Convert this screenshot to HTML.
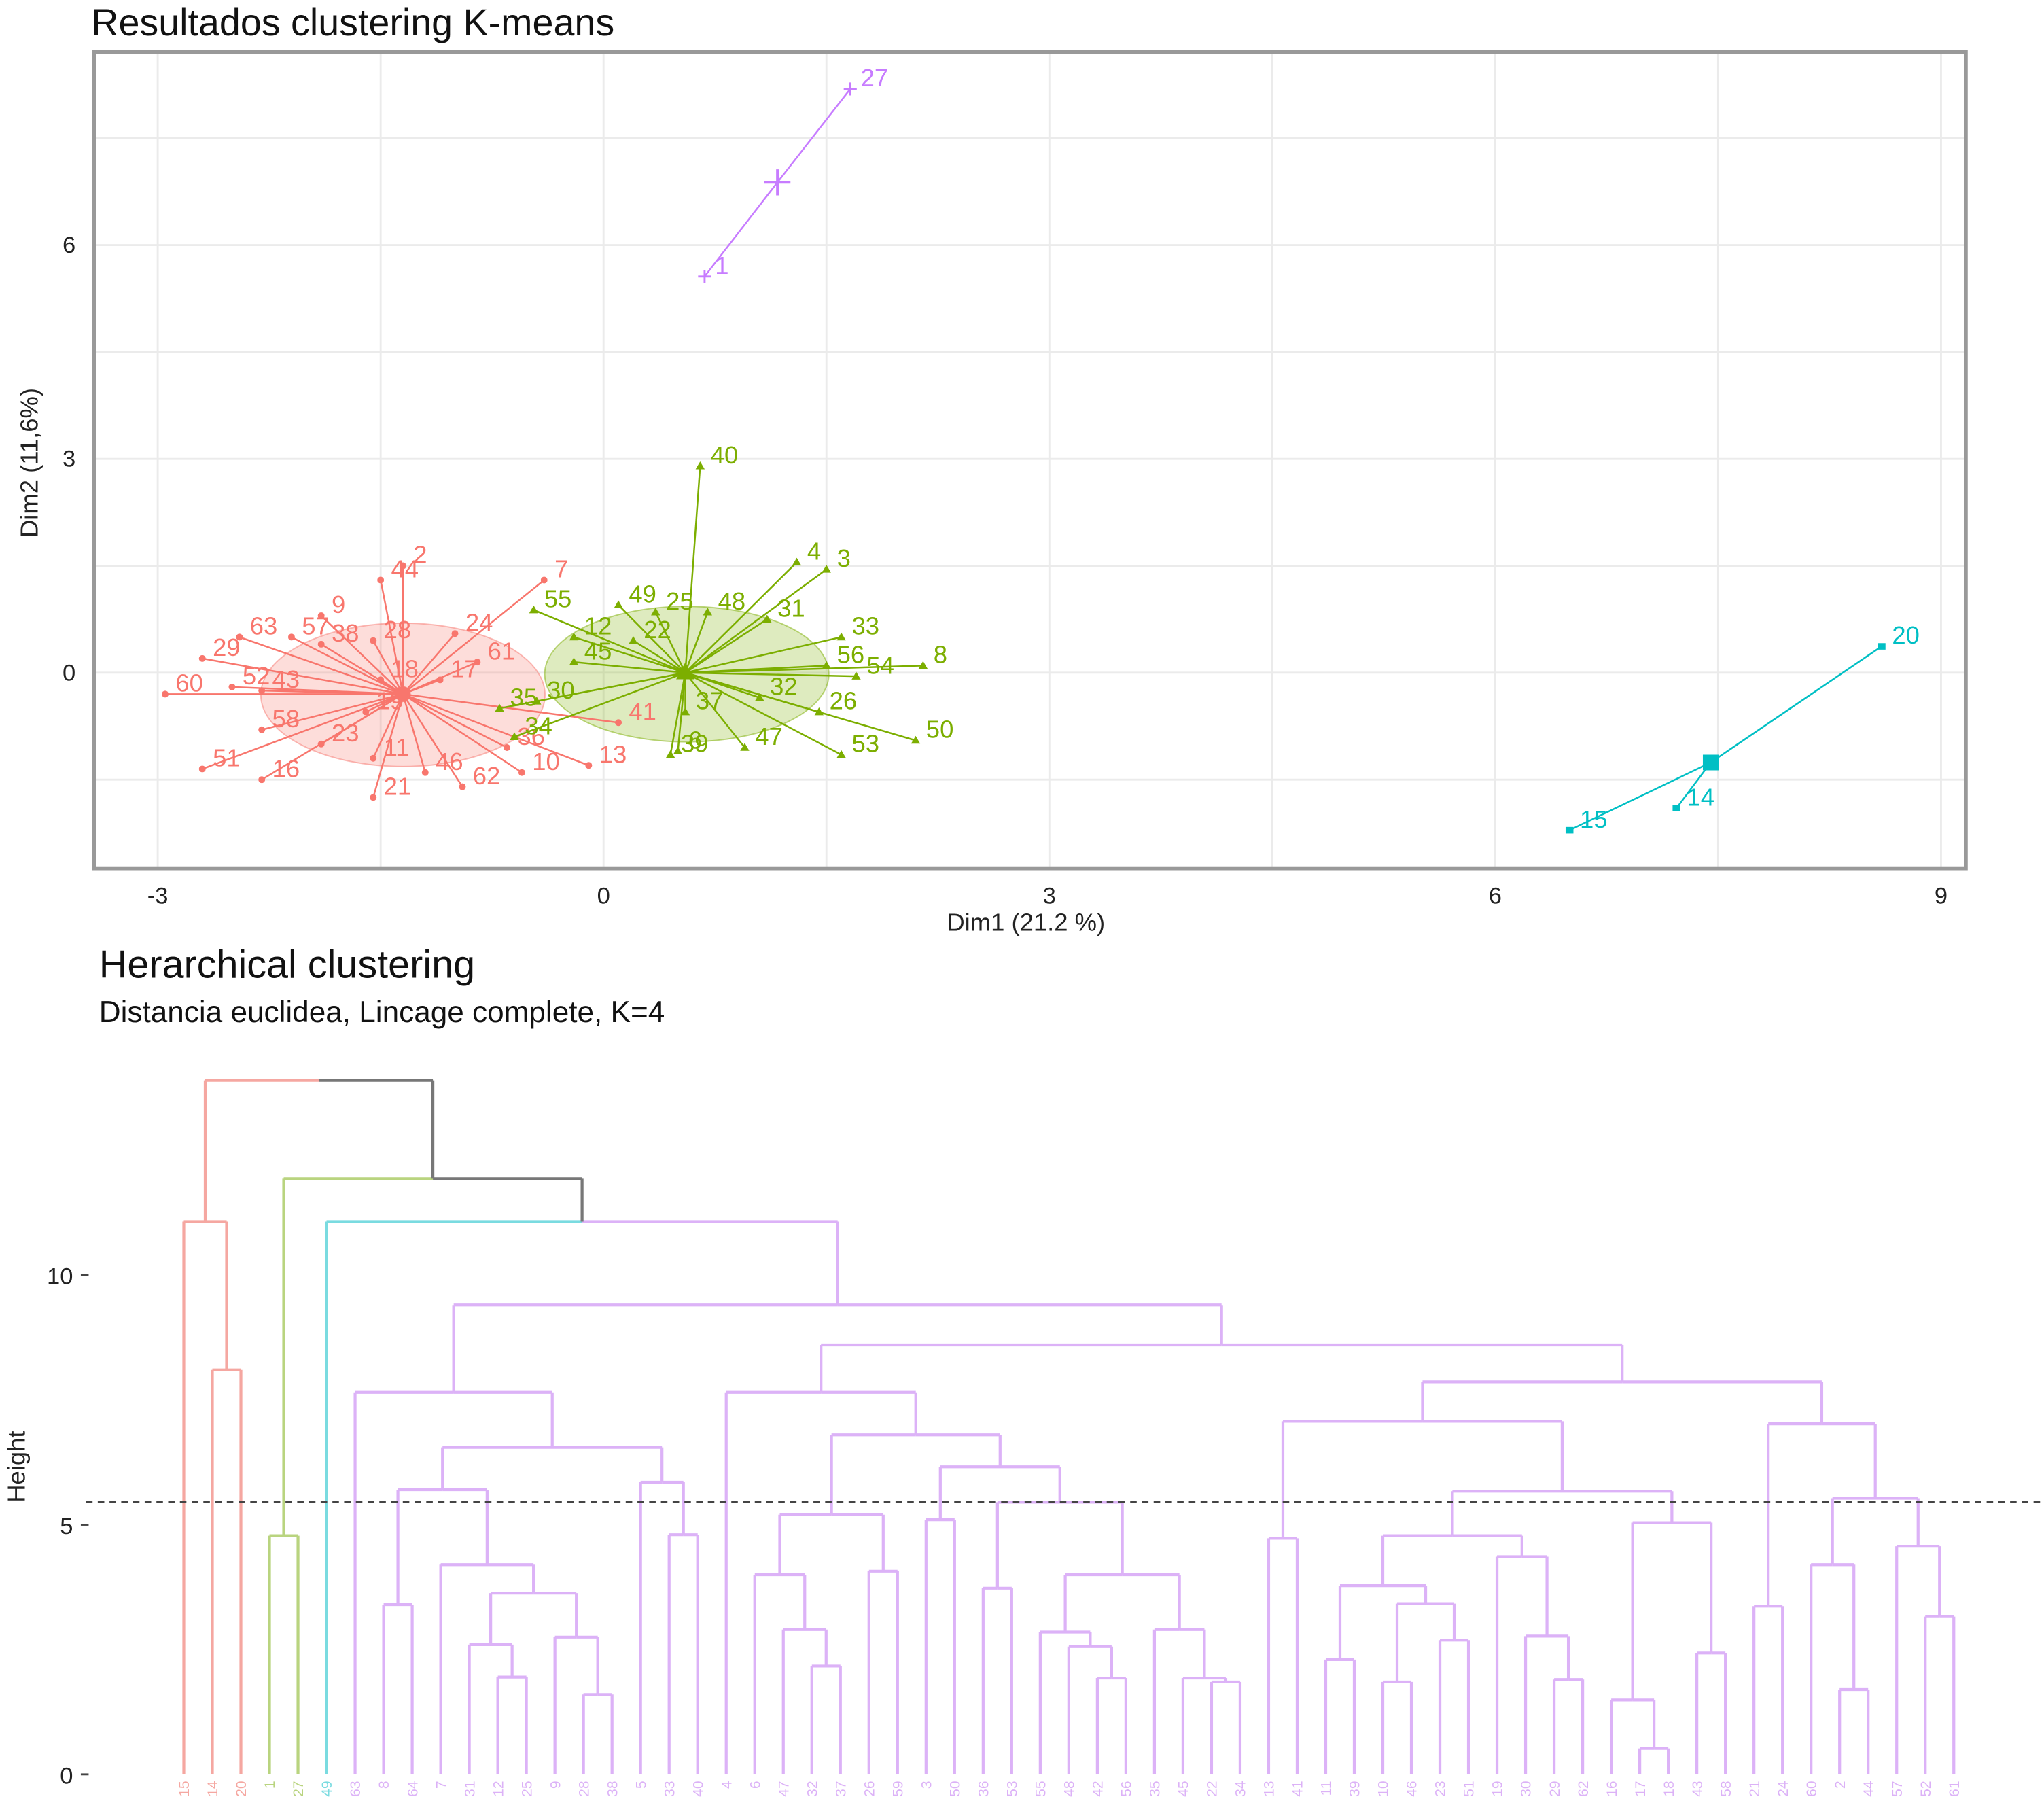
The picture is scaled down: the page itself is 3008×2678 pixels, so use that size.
<!DOCTYPE html>
<html><head><meta charset="utf-8"><style>
html,body{margin:0;padding:0;background:#fff;}
svg{display:block;font-family:"Liberation Sans",sans-serif;}
</style></head><body>
<svg id="root" width="3008" height="2678" viewBox="0 0 1568 1396" preserveAspectRatio="none" xmlns="http://www.w3.org/2000/svg">
<text x="70" y="27" font-size="29" fill="#111">Resultados clustering K-means</text>
<g id="scatter"></g>
<text x="787" y="714" font-size="19" text-anchor="middle" fill="#222">Dim1 (21.2 %)</text>
<text transform="translate(29,355) rotate(-90)" font-size="19" text-anchor="middle" fill="#222">Dim2 (11,6%)</text>
<text x="76" y="750" font-size="30" fill="#111">Herarchical clustering</text>
<text x="76" y="784" font-size="23" fill="#111">Distancia euclidea, Lincage complete, K=4</text>
<g id="dend"></g>
<text transform="translate(19,1125) rotate(-90)" font-size="19" text-anchor="middle" fill="#222">Height</text>
</svg>
<script>
// ---------- scatter data ----------
const redLabels=["2","44","9","63","57","29","38","28","24","52","18","17","61","60","43","19","58","23","11","51","16","21","46","62","10","36","41","13","7"];
const redX=[-1.35,-1.5,-1.9,-2.45,-2.1,-2.7,-1.9,-1.55,-1.0,-2.5,-1.5,-1.1,-0.85,-2.95,-2.3,-1.6,-2.3,-1.9,-1.55,-2.7,-2.3,-1.55,-1.2,-0.95,-0.55,-0.65,0.1,-0.1,-0.4];
const redY=[1.5,1.3,0.8,0.5,0.5,0.2,0.4,0.45,0.55,-0.2,-0.1,-0.1,0.15,-0.3,-0.25,-0.55,-0.8,-1.0,-1.2,-1.35,-1.5,-1.75,-1.4,-1.6,-1.4,-1.05,-0.7,-1.3,1.3];
const redCenter=[-1.35,-0.3];
const greenLabels=["40","4","3","49","25","48","31","55","12","22","33","45","56","8","54","30","35","32","26","37","34","50","53","47","6","39"];
const greenX=[0.65,1.3,1.5,0.1,0.35,0.7,1.1,-0.47,-0.2,0.2,1.6,-0.2,1.5,2.15,1.7,-0.45,-0.7,1.05,1.45,0.55,-0.6,2.1,1.6,0.95,0.5,0.45];
const greenY=[2.9,1.55,1.45,0.95,0.85,0.85,0.75,0.88,0.5,0.45,0.5,0.15,0.1,0.1,-0.05,-0.4,-0.5,-0.35,-0.55,-0.55,-0.9,-0.95,-1.15,-1.05,-1.1,-1.15];
const greenCenter=[0.55,0.0];
const purpleLabels=["27","1"];
const purpleX=[1.66,0.68];
const purpleY=[8.19,5.56];
const purpleCenter=[1.17,6.88];
const cyanLabels=["20","14","15"];
const cyanX=[8.6,7.22,6.5];
const cyanY=[0.37,-1.9,-2.21];
const cyanCenter=[7.45,-1.26];
const xTicks=[-3,0,3,6,9];
const yTicks=[0,3,6];

const NS="http://www.w3.org/2000/svg";
function mk(tag,attrs,parent){const e=document.createElementNS(NS,tag);for(const k in attrs)e.setAttribute(k,attrs[k]);parent.appendChild(e);return e;}
const sx=v=>463+v*114;
const sy=v=>516-v*54.67;
const S=document.getElementById('scatter');
// panel
let bg=mk('rect',{x:72,y:40,width:1436,height:626,fill:'#fff'},S);


for(let v=-3;v<=9;v+=1.5){let g=mk('line',{x1:sx(v),x2:sx(v),y1:40,y2:666,stroke:'#ebebeb','stroke-width':1.5},S);

}
for(let v=-1.5;v<=7.5;v+=1.5){let g=mk('line',{x1:72,x2:1508,y1:sy(v),y2:sy(v),stroke:'#ebebeb','stroke-width':1.5},S);

}
// ellipses
let e1=mk('ellipse',{cx:sx(-1.35),cy:sy(-0.31),rx:109,ry:55,fill:'#f8766d','fill-opacity':0.25,stroke:'#f8766d','stroke-opacity':0.5},S);


let e2=mk('ellipse',{cx:sx(0.56),cy:sy(-0.02),rx:109,ry:52,fill:'#7cae00','fill-opacity':0.25,stroke:'#7cae00','stroke-opacity':0.5},S);


function drawCluster(labels,xs,ys,c,col,shape,name){
  for(let i=0;i<labels.length;i++){
    const px=sx(xs[i]),py=sy(ys[i]);
    let l=mk('line',{x1:sx(c[0]),y1:sy(c[1]),x2:px,y2:py,stroke:col,'stroke-width':1.3},S);
    
    
    let m;
    if(shape==='tri') m=mk('path',{d:`M${px},${py-3.5}L${px+3.5},${py+2.5}L${px-3.5},${py+2.5}Z`,fill:col},S);
    else if(shape==='sq') m=mk('rect',{x:px-3,y:py-2.5,width:6,height:5,fill:col},S);
    else if(shape==='plus') m=mk('path',{d:`M${px-5},${py}H${px+5}M${px},${py-5}V${py+5}`,stroke:col,'stroke-width':1.5},S);
    else m=mk('circle',{cx:px,cy:py,r:2.6,fill:col},S);
    
    
    let t=mk('text',{x:px+8,y:py-2,'font-size':19,fill:col},S);
    t.textContent=labels[i];
    
    
  }
  let cc;
  if(shape==='tri') cc=mk('path',{d:`M${sx(c[0])},${sy(c[1])-8}L${sx(c[0])+7},${sy(c[1])+5}L${sx(c[0])-7},${sy(c[1])+5}Z`,fill:col},S);
  else if(shape==='sq') cc=mk('rect',{x:sx(c[0])-6,y:sy(c[1])-6,width:12,height:12,fill:col},S);
  else if(shape==='plus') cc=mk('path',{d:`M${sx(c[0])-10},${sy(c[1])}H${sx(c[0])+10}M${sx(c[0])},${sy(c[1])-10}V${sy(c[1])+10}`,stroke:col,'stroke-width':2},S);
  else cc=mk('circle',{cx:sx(c[0]),cy:sy(c[1]),r:6,fill:col},S);
  
  
}
drawCluster(redLabels,redX,redY,redCenter,'#f8766d','circle','cluster-1');
drawCluster(greenLabels,greenX,greenY,greenCenter,'#7cae00','tri','cluster-2');
drawCluster(cyanLabels,cyanX,cyanY,cyanCenter,'#00bfc4','sq','cluster-3');
drawCluster(purpleLabels,purpleX,purpleY,purpleCenter,'#c77cff','plus','cluster-4');
let bd=mk('rect',{x:72,y:40,width:1436,height:626,fill:'none',stroke:'#999','stroke-width':3},S);


xTicks.forEach(v=>{let t=mk('text',{x:sx(v),y:693,'font-size':18,'text-anchor':'middle',fill:'#222'},S);t.textContent=v;

});
yTicks.forEach(v=>{let t=mk('text',{x:58,y:sy(v)+6,'font-size':18,'text-anchor':'end',fill:'#222'},S);t.textContent=v;

});

// ---------- dendrogram data ----------
const purpleTree=[9.4,
 [7.65,"63",[6.55,[5.7,[3.4,"8","64"],[4.2,"7",[3.63,[2.6,"31",[1.95,"12","25"]],[2.75,"9",[1.6,"28","38"]]]]],[5.85,"5",[4.8,"33","40"]]]],
 [8.6,
  [7.65,"4",[6.8,[5.2,[4.0,"6",[2.9,"47",[2.17,"32","37"]]],[4.07,"26","59"]],[6.16,[5.1,"3","50"],[5.45,[3.73,"36","53"],[4.0,[2.85,"55",[2.56,"48",[1.93,"42","56"]]],[2.9,"35",[1.93,"45",[1.85,"22","34"]]]]]]]],
  [7.86,[7.07,[4.73,"13","41"],[5.67,[4.78,[3.78,[2.3,"11","39"],[3.42,[1.85,"10","46"],[2.69,"23","51"]]],[4.36,"19",[2.77,"30",[1.9,"29","62"]]]],[5.04,[1.49,"16",[0.52,"17","18"]],[2.43,"43","58"]]]],
   [7.02,[3.37,"21","24"],[5.53,[4.2,"60",[1.7,"2","44"]],[4.57,"57",[3.16,"52","61"]]]]]]];
const redTree=[11.07,"15",[8.1,"14","20"]];
const greenTree=[4.78,"1","27"];
const cyanLeaf="49";
const fullTree=[13.9,redTree,[11.93,greenTree,[11.07,cyanLeaf,purpleTree]]];
const cutHeight=5.45;
const hTicks=[0,5,10];
const clusterColors={red:'#f5a7a1',green:'#b9d47f',cyan:'#7adbe0',purple:'#dcb2f7',none:'#777'};

const D=document.getElementById('dend');
const hy=h=>1361-h*38.3;
const x0=141,dx=21.9;
let leafIdx=0;
function clusterOf(node,cl){return cl;}
function draw(node,cl){
  if(typeof node==='string'){
    const x=x0+leafIdx*dx;leafIdx++;
    let t=mk('text',{transform:`translate(${x+4},${1366}) rotate(-90)`,'font-size':11,'text-anchor':'end',fill:clusterColors[cl]},D);
    t.textContent=node;
    
    
    return {x:x,h:0};
  }
  const L=draw(node[1],cl.l||cl),R=draw(node[2],cl.r||cl);
  return {x:(L.x+R.x)/2,h:node[0],L:L,R:R};
}
function seg(x1,y1,x2,y2,col,name){
  let l=mk('line',{x1:x1,y1:y1,x2:x2,y2:y2,stroke:col,'stroke-width':2.2},D);
  
  
}
function render(node,col){
  if(typeof node==='string'){return;}
}
// generic drawing with per-subtree colours
function build(node,colorFn){
  if(typeof node==='string'){
    const x=x0+leafIdx*dx;leafIdx++;
    const col=colorFn(node);
    let t=mk('text',{transform:`translate(${x+4},${1366}) rotate(-90)`,'font-size':11,'text-anchor':'end',fill:col},D);
    t.textContent=node;
    
    
    return {x:x,h:0,col:col};
  }
  const L=build(node[1],colorFn),R=build(node[2],colorFn);
  const x=(L.x+R.x)/2,y=hy(node[0]);
  const cl=L.col===R.col?L.col:clusterColors.none;
  seg(L.x,hy(L.h),L.x,y,L.col,'dendrogram-branch');
  seg(R.x,hy(R.h),R.x,y,R.col,'dendrogram-branch');
  seg(L.x,y,x,y,L.col,'dendrogram-link');
  seg(x,y,R.x,y,R.col,'dendrogram-link');
  return {x:x,h:node[0],col:cl};
}
const redSet=["15","14","20"],greenSet=["1","27"];
build(fullTree,lab=>redSet.includes(lab)?clusterColors.red:greenSet.includes(lab)?clusterColors.green:lab===cyanLeaf?clusterColors.cyan:clusterColors.purple);
// axis
hTicks.forEach(v=>{
  let t=mk('text',{x:56,y:hy(v)+7,'font-size':18,'text-anchor':'end',fill:'#222'},D);t.textContent=v;
  
  
  let k=mk('line',{x1:62,x2:68,y1:hy(v),y2:hy(v),stroke:'#444','stroke-width':1.5},D);
  
  
});
let cut=mk('line',{x1:66,x2:1568,y1:hy(cutHeight),y2:hy(cutHeight),stroke:'#444','stroke-width':1.5,'stroke-dasharray':'5,4'},D);


</script>
</body></html>
